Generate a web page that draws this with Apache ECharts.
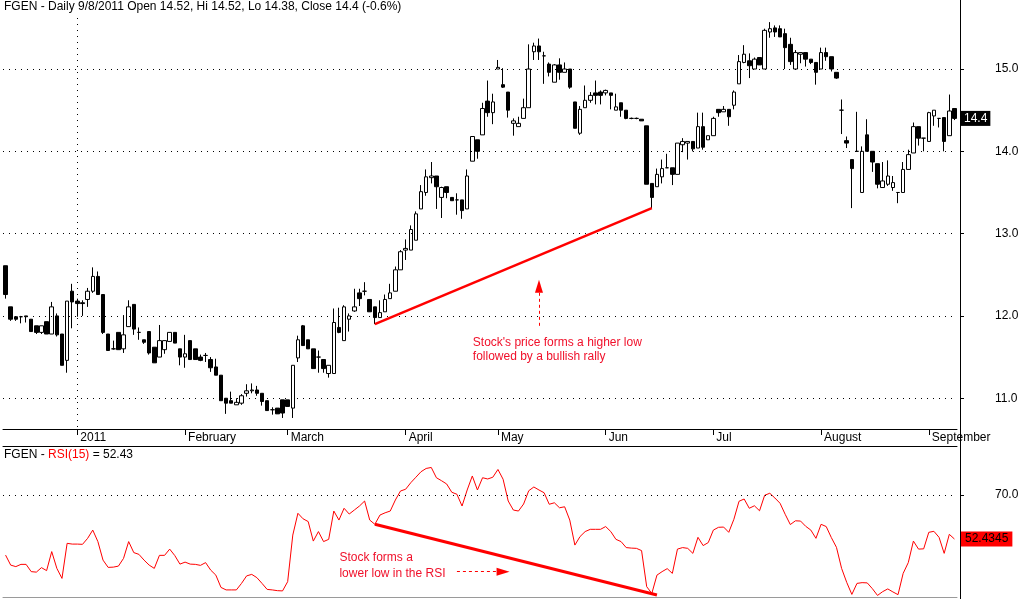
<!DOCTYPE html>
<html><head><meta charset="utf-8">
<script src="https://cdn.jsdelivr.net/npm/echarts@6/dist/echarts.min.js"></script>
<style>html,body{margin:0;padding:0;background:#fff}#c{width:1023px;height:599px}</style>
</head><body><div id="c"></div>
<script>
// ---- data ----
const ticker = 'FGEN';
const lastDate = '9/8/2011';
const opens = [12.61,12.11,11.99,11.99,12.00,11.96,11.88,11.80,11.93,11.78,
12.00,11.78,11.46,12.30,12.18,12.16,12.20,12.30,12.48,12.26,
11.78,11.60,11.80,11.60,11.87,12.14,11.80,11.71,11.81,11.62,
11.50,11.59,11.69,11.80,11.60,11.50,11.70,11.60,11.50,11.52,
11.47,11.38,11.28,11.00,10.97,10.92,10.94,11.06,11.09,11.10,
11.06,10.97,10.86,10.88,10.98,10.98,10.88,11.49,11.88,11.71,
11.60,11.50,11.47,11.30,11.30,11.86,11.70,11.96,12.06,12.28,
12.30,12.20,12.11,11.98,12.05,12.21,12.30,12.56,12.80,12.80,
12.92,13.30,13.50,13.68,13.70,13.44,13.57,13.44,13.41,13.41,
13.30,13.88,14.14,14.20,14.61,14.47,15.00,14.81,14.72,14.34,
14.30,14.40,14.53,15.21,15.28,15.16,15.06,14.84,15.05,14.96,
15.00,14.60,14.22,14.53,14.62,14.71,14.72,14.71,14.71,14.50,
14.59,14.50,14.40,14.40,14.39,14.31,13.61,13.57,13.69,13.80,
13.80,13.72,14.08,14.10,14.12,14.04,14.30,14.14,14.19,14.51,
14.48,14.51,14.56,14.82,15.08,15.10,15.00,15.14,15.00,15.45,
15.50,15.49,15.43,15.30,15.00,15.18,15.20,15.12,15.08,15.00,
15.20,15.15,14.96,14.50,14.13,13.90,14.00,13.50,14.20,14.00,
13.85,13.56,13.60,13.56,13.50,13.50,13.78,13.98,14.30,14.16,
14.12,14.43,14.40,14.41,14.19,14.52];
const closes = [12.26,11.96,11.96,11.99,11.99,11.81,11.80,11.88,11.78,12.11,
11.77,11.40,12.18,12.17,12.15,12.15,12.30,12.48,12.26,11.80,
11.58,11.60,11.59,11.77,12.11,11.84,11.80,11.68,11.55,11.43,
11.70,11.70,11.80,11.67,11.50,11.54,11.47,11.47,11.46,11.52,
11.37,11.28,10.97,10.94,10.94,10.95,11.03,11.09,11.10,11.06,
10.96,10.85,10.86,10.81,10.82,10.90,11.40,11.71,11.64,11.60,
11.36,11.50,11.36,11.40,11.92,11.80,12.11,12.00,12.11,12.21,
12.30,12.05,11.98,12.04,12.20,12.28,12.56,12.78,12.82,13.05,
13.24,13.51,13.69,13.70,13.57,13.56,13.50,13.40,13.41,13.28,
13.70,14.18,14.00,14.52,14.47,14.60,15.02,14.78,14.50,14.37,
14.34,14.53,15.00,15.28,15.21,15.16,14.96,15.05,14.96,15.00,
14.78,14.28,14.51,14.62,14.68,14.68,14.68,14.74,14.68,14.54,
14.50,14.40,14.40,14.40,14.37,13.60,13.44,13.72,13.79,13.80,
13.72,14.10,14.12,14.12,14.03,14.30,14.05,14.19,14.40,14.47,
14.51,14.42,14.72,15.09,15.18,15.04,15.12,15.05,15.47,15.49,
15.45,15.39,15.26,15.09,15.20,15.20,15.12,15.08,14.96,15.20,
15.15,15.00,14.89,14.50,14.10,13.79,14.00,14.00,14.00,13.87,
13.60,13.64,13.70,13.62,13.50,13.78,13.96,14.30,14.16,14.16,
14.47,14.50,14.40,14.12,14.49,14.40];
const lows = [12.21,11.94,11.94,11.91,11.92,11.81,11.78,11.78,11.78,11.78,
11.75,11.40,11.31,11.85,11.99,12.00,12.11,12.28,12.26,11.78,
11.58,11.59,11.59,11.55,11.87,11.77,11.71,11.66,11.53,11.43,
11.50,11.54,11.69,11.67,11.40,11.37,11.47,11.47,11.45,11.44,
11.32,11.28,10.97,10.81,10.94,10.92,10.92,11.02,11.06,11.03,
10.91,10.85,10.80,10.81,10.76,10.90,10.76,11.44,11.64,11.60,
11.36,11.31,11.31,11.25,11.30,11.79,11.70,11.81,12.05,12.12,
12.25,12.05,11.90,11.98,12.05,12.21,12.30,12.56,12.68,12.80,
12.92,13.30,13.46,13.61,13.30,13.19,13.43,13.40,13.23,13.18,
13.30,13.88,13.91,14.20,14.42,14.33,15.00,14.77,14.41,14.19,
14.30,14.40,14.53,15.11,15.11,14.82,14.91,14.84,14.87,14.96,
14.76,14.28,14.20,14.53,14.59,14.57,14.57,14.68,14.51,14.50,
14.42,14.39,14.39,14.39,14.37,13.60,13.31,13.57,13.61,13.80,
13.59,13.72,13.99,13.90,14.00,14.04,14.02,14.14,14.19,14.42,
14.48,14.31,14.51,14.82,15.07,14.89,15.00,15.05,15.00,15.38,
15.39,15.39,15.00,15.05,15.00,15.07,15.03,15.06,14.81,15.00,
15.10,14.97,14.88,14.21,14.04,13.31,14.00,13.50,14.00,13.75,
13.55,13.56,13.58,13.52,13.37,13.50,13.78,13.98,14.07,14.00,
14.12,14.31,14.29,14.00,14.19,14.38];
const highs = [12.61,12.11,11.99,12.00,12.00,11.96,11.88,11.88,11.93,12.17,
12.03,11.78,12.18,12.39,12.21,12.19,12.34,12.59,12.54,12.26,
11.78,11.70,11.80,12.01,12.19,12.14,11.86,11.71,11.81,11.62,
11.89,11.70,11.80,11.80,11.60,11.77,11.70,11.60,11.53,11.55,
11.50,11.48,11.28,11.00,11.08,11.00,11.05,11.17,11.18,11.15,
11.06,10.97,10.89,10.88,10.98,10.98,11.40,11.76,11.89,11.71,
11.60,11.58,11.47,11.40,12.09,12.10,12.13,12.03,12.33,12.33,
12.41,12.20,12.11,12.19,12.26,12.39,12.60,12.80,12.93,13.10,
13.27,13.59,13.78,13.87,13.70,13.57,13.57,13.44,13.49,13.41,
13.78,14.18,14.14,14.59,14.86,14.70,15.11,15.01,14.72,14.40,
14.42,14.64,15.30,15.32,15.37,15.21,15.08,15.06,15.13,15.08,
15.00,14.60,14.55,14.80,14.72,14.86,14.74,14.75,14.71,14.70,
14.59,14.50,14.41,14.41,14.39,14.31,13.61,13.79,13.90,13.97,
13.80,14.10,14.16,14.12,14.12,14.47,14.47,14.19,14.42,14.51,
14.55,14.51,14.74,15.17,15.29,15.19,15.14,15.14,15.49,15.57,
15.53,15.53,15.49,15.38,15.23,15.20,15.20,15.12,15.08,15.26,
15.26,15.15,14.96,14.63,14.18,13.90,14.48,14.06,14.39,14.00,
13.85,13.87,13.89,13.70,13.50,13.87,14.02,14.35,14.30,14.16,
14.48,14.50,14.40,14.41,14.69,14.52];
const rsi = [46.0,42.0,41.4,42.3,42.3,39.4,39.2,41.0,39.8,47.4,
40.7,36.7,50.7,50.4,50.4,50.3,52.7,56.0,51.4,44.0,
41.1,41.2,41.6,44.7,51.4,47.0,46.3,44.0,42.0,40.7,
45.9,45.9,48.4,45.8,42.4,43.2,42.4,42.3,41.9,43.0,
40.0,38.0,33.1,32.1,32.1,32.1,34.7,37.7,38.3,37.0,
34.7,32.3,32.1,31.8,31.7,35.4,54.0,62.7,60.5,59.4,
51.6,55.4,51.4,52.3,63.6,60.0,64.7,62.4,64.0,65.6,
67.6,60.0,58.3,62.0,62.9,63.6,68.0,71.6,72.3,74.9,
77.1,79.3,80.6,81.0,76.9,75.7,74.4,71.1,70.3,65.6,
72.0,77.6,72.0,76.9,76.4,77.1,80.2,76.3,67.6,64.0,
63.6,66.4,71.7,73.2,72.0,70.9,66.3,66.9,64.9,65.3,
60.0,50.0,53.4,55.4,56.3,56.3,56.3,57.4,55.4,52.3,
51.4,49.0,48.8,48.7,47.8,33.4,30.7,38.0,39.4,40.6,
38.7,48.4,49.0,48.7,46.7,53.1,49.8,51.0,56.0,57.1,
57.2,55.1,60.3,67.5,68.4,64.7,65.7,63.7,69.9,70.7,
68.8,66.7,62.3,58.2,59.7,59.6,57.5,56.0,52.7,58.3,
57.4,53.0,49.1,40.7,35.1,30.3,34.7,35.0,34.9,32.6,
29.9,31.4,32.5,31.3,30.2,38.7,43.0,51.6,48.4,48.5,
55.1,55.5,53.1,46.7,54.3,52.4345];
const monthLabels = ['2011','February','March','April','May','Jun','Jul','August','September'];
const monthStarts = [14,35,55,78,96,117,138,159,180];
const priceTicks = [11,12,13,14,15];
const rsiTicks = [70];
const priceAxisMin = 10.626, priceAxisMax = 15.62;
const rsiAxisMin = 29.27, rsiAxisMax = 89.57;
// annotations
const priceTrend = [[72, 11.90],[126, 13.31]];
const priceArrow = [[104, 11.88],[104, 12.36]];
const priceNote = {at:[91, 11.585], text:"Stock's price forms a higher low\nfollowed by a bullish rally"};
const rsiTrend = [[72, 58.3],[127, 30.1]];
const rsiArrow = [[88, 39.4],[97, 39.4]];
const rsiNote = {at:[65, 41.65], text:"Stock forms a\nlower low in the RSI"};

// ---- chart ----
const N = opens.length;
const cats = opens.map((_, i) => String(i));
const candles = opens.map((o, i) => [o, closes[i], lows[i], highs[i]]);
const FONT = '"Liberation Sans", Arial, sans-serif';
const RED = '#ff0000';
const ANN = '#f0102a';
const last = N - 1;
const chg = ((closes[last] - closes[last-1]) / closes[last-1] * 100).toFixed(1);
const titleText = `${ticker} - Daily ${lastDate} Open ${opens[last]}, Hi ${highs[last]}, Lo ${lows[last]}, Close ${closes[last]} (${chg}%)`;
const dotted = {type:[1,5], color:'#000', width:1};
const noLabel = {show:false};
const hiddenLine = {color:'rgba(0,0,0,0)', width:0, opacity:1};

const chart = echarts.init(document.getElementById('c'), null, {renderer:'canvas'});
chart.setOption({
  animation: false,
  backgroundColor: '#fff',
  textStyle: {fontFamily: FONT},
  title: [
    {left: 4, top: 1, text: titleText, padding: 0,
     textStyle: {fontSize: 12, fontWeight: 'normal', color: '#000', fontFamily: FONT}},
    {left: 4, top: 449, padding: 0,
     text: `{a|${ticker} - }{b|RSI(15)}{a| = ${rsi[last].toFixed(2)}}`,
     textStyle: {fontSize: 12, fontWeight:'normal', fontFamily: FONT,
       rich: {a:{color:'#000', fontSize:12, fontFamily: FONT}, b:{color: RED, fontSize:12, fontFamily: FONT}}}}
  ],
  grid: [
    {left: 3, right: 66, top: 18, height: 411},
    {left: 3, right: 66, top: 446, height: 151}
  ],
  xAxis: [
    {type:'category', gridIndex:0, data: cats, boundaryGap: true,
     axisLine:{show:true, lineStyle:{color:'#000', width:1}},
     axisTick:{show:true, alignWithLabel:true, length:6, interval:(i)=>monthStarts.includes(i), lineStyle:{color:'#000'}},
     axisLabel:{show:true, interval:(i)=>monthStarts.includes(i), formatter:(v,i)=>monthLabels[monthStarts.indexOf(i)] || '',
       align:'left', padding:[0,0,0,3], margin:3, color:'#000', fontSize:12, fontFamily: FONT},
     splitLine:{show:false}},
    {type:'category', gridIndex:1, data: cats, position:'top', boundaryGap: true,
     axisLine:{show:true, lineStyle:{color:'#000'}}, axisTick:{show:false}, axisLabel:{show:false}, splitLine:{show:false}},
    {type:'category', gridIndex:1, data: cats, position:'bottom', boundaryGap: true,
     axisLine:{show:true, lineStyle:{color:'#9a9a9a'}}, axisTick:{show:false}, axisLabel:{show:false}, splitLine:{show:false}}
  ],
  yAxis: [
    {type:'value', gridIndex:0, position:'right', offset:3, min: priceAxisMin, max: priceAxisMax,
     axisLine:{show:true, lineStyle:{color:'#000'}},
     axisTick:{show:true, customValues: priceTicks, length:4, lineStyle:{color:'#000'}},
     axisLabel:{show:true, customValues: priceTicks, formatter:(v)=>Number(v).toFixed(1), margin:35, color:'#000', fontSize:12, fontFamily: FONT},
     splitLine:{show:false}},
    {type:'value', gridIndex:1, position:'right', offset:3, min: rsiAxisMin, max: rsiAxisMax,
     axisLine:{show:true, lineStyle:{color:'#000'}},
     axisTick:{show:true, customValues: rsiTicks, length:4, lineStyle:{color:'#000'}},
     axisLabel:{show:true, customValues: rsiTicks, formatter:(v)=>Number(v).toFixed(1), margin:35, color:'#000', fontSize:12, fontFamily: FONT},
     splitLine:{show:false}}
  ],
  graphic: [
    {type:'line', silent:true, shape:{x1:960.5, y1:0, x2:960.5, y2:599}, style:{stroke:'#000', lineWidth:1}, z:100}
  ],
  series: [
    {type:'candlestick', xAxisIndex:0, yAxisIndex:0, data: candles, barWidth: 4, clip: false,
     itemStyle:{color:'#fff', color0:'#000', borderColor:'#000', borderColor0:'#000', borderColorDoji:'#000', borderWidth:1},
     markLine:{silent:true, symbol:['none','none'], animation:false, precision: 4,
       data:[
         ...priceTicks.map(v => ({yAxis:v, lineStyle:dotted, label:noLabel})),
         [{coord:[monthStarts[0], priceAxisMax], lineStyle:dotted, label:noLabel}, {coord:[monthStarts[0], priceAxisMin]}],
         [{coord:priceTrend[0], lineStyle:{color:RED, width:2.5, type:'solid'}, label:noLabel}, {coord:priceTrend[1]}],
         [{coord:priceArrow[0], symbol:'none', lineStyle:{color:RED, width:1, type:[3,3]}, label:noLabel},
          {coord:priceArrow[1], symbol:'triangle', symbolSize:[8,13]}],
         {yAxis: closes[last], lineStyle:hiddenLine, label:{show:true, position:'end', distance:4, opacity:1,
           formatter: String(closes[last]), backgroundColor:'#000', color:'#fff', fontSize:12, fontFamily: FONT, padding:[2,3,1,3]}}
       ]},
     markPoint:{silent:true, symbol:'rect', symbolSize:1, itemStyle:{color:'rgba(0,0,0,0)'},
       data:[{coord: priceNote.at, label:{show:true, position:'right', distance:0, formatter: priceNote.text,
         color: ANN, fontSize:12, lineHeight:14, fontFamily: FONT}}]}
    },
    {type:'line', xAxisIndex:1, yAxisIndex:1, data: rsi, symbol:'none', showSymbol:false, clip: false,
     lineStyle:{color:RED, width:1}, itemStyle:{color:RED},
     markLine:{silent:true, symbol:['none','none'], animation:false, precision: 4,
       data:[
         ...rsiTicks.map(v => ({yAxis:v, lineStyle:dotted, label:noLabel})),
         [{coord:rsiTrend[0], lineStyle:{color:RED, width:3, type:'solid'}, label:noLabel}, {coord:rsiTrend[1]}],
         [{coord:rsiArrow[0], symbol:'none', lineStyle:{color:RED, width:1, type:[3,3]}, label:noLabel},
          {coord:rsiArrow[1], symbol:'triangle', symbolSize:[8,13]}],
         {yAxis: rsi[last], lineStyle:hiddenLine, label:{show:true, position:'end', distance:4, opacity:1,
           formatter: rsi[last].toFixed(4), backgroundColor:RED, color:'#000', fontSize:12, fontFamily: FONT, padding:[2,4,1,4]}}
       ]},
     markPoint:{silent:true, symbol:'rect', symbolSize:1, itemStyle:{color:'rgba(0,0,0,0)'},
       data:[{coord: rsiNote.at, label:{show:true, position:'right', distance:0, formatter: rsiNote.text,
         color: ANN, fontSize:12, lineHeight:16, fontFamily: FONT}}]}
    }
  ]
});
</script></body></html>
